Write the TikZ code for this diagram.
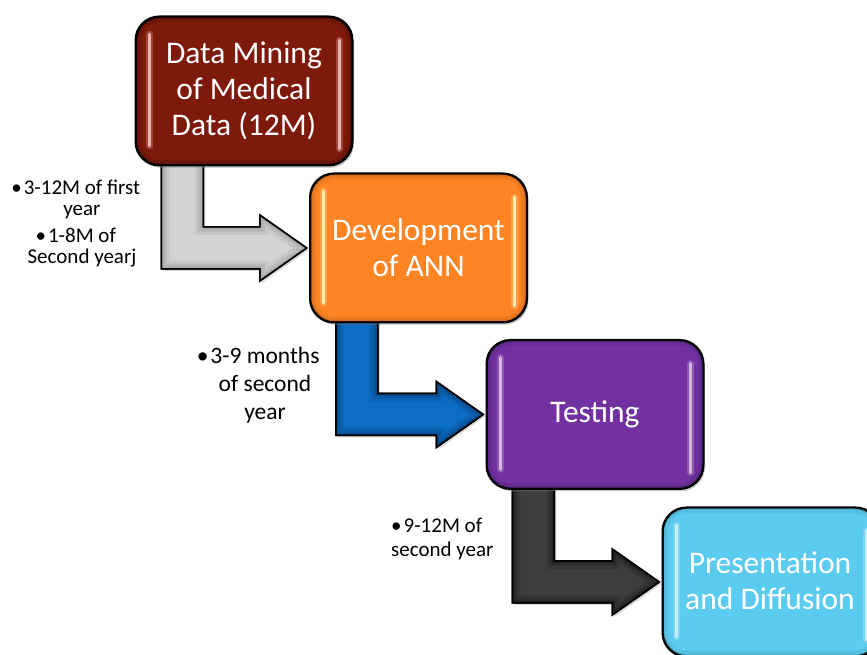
\documentclass[tikz,border=0pt]{standalone}
\usepackage{fontspec}
\setmainfont{Carlito}
\usetikzlibrary{shadows,calc}

\definecolor{minered}{HTML}{7E1A0C}
\definecolor{annorange}{HTML}{FF8424}
\definecolor{testpurple}{HTML}{7131A1}
\definecolor{presblue}{HTML}{5CCBF0}
\definecolor{arrowgray}{HTML}{D2D2D2}
\definecolor{arrowblue}{HTML}{0B6DC4}
\definecolor{arrowdark}{HTML}{3E3E3E}

\pgfdeclarelayer{back}
\pgfsetlayers{back,main}

\tikzset{
  phase/.style={draw=black, line width=1.5pt, rounded corners=24pt,
    minimum width=216pt, minimum height=148pt, inner sep=0pt,
    drop shadow={shadow xshift=2pt, shadow yshift=-3pt, opacity=0.35}},
  phasetext/.style={text=white, align=center, font=\fontsize{31.5}{36}\selectfont},
  elbow/.style={draw=black, line width=1.5pt, line join=miter,
    drop shadow={shadow xshift=2pt, shadow yshift=-2pt, opacity=0.3}},
  note/.style={align=center, text=black, inner sep=0pt},
  gloss/.style={line width=3.2pt, line cap=round, opacity=0.8},
  glow/.style={line width=7pt, line cap=round, opacity=0.25},
}

% elbow arrow #1 from the bottom of box #2 to the west side of box #3,
% filled with #4 and shaded darker (#5) towards its outline
\newcommand\elbowarrow[5]{%
  \path let \p1=(#2.south west), \p2=(#3.west) in
    coordinate (#1-1) at (\x1+26pt,\y1+12pt)
    coordinate (#1-2) at (\x1+26pt,\y2-21pt)
    coordinate (#1-3) at (\x2-50pt,\y2-21pt)
    coordinate (#1-4) at (\x2-50pt,\y2-33pt)
    coordinate (#1-5) at (\x2-3pt,\y2)
    coordinate (#1-6) at (\x2-50pt,\y2+33pt)
    coordinate (#1-7) at (\x2-50pt,\y2+21pt)
    coordinate (#1-8) at (\x1+68pt,\y2+21pt)
    coordinate (#1-9) at (\x1+68pt,\y1+12pt);
  \def\arrowoutline{(#1-1) -- (#1-2) -- (#1-3) -- (#1-4) -- (#1-5)
    -- (#1-6) -- (#1-7) -- (#1-8) -- (#1-9) -- cycle}%
  \path[elbow, fill=#4] \arrowoutline;
  \begin{scope}
    \clip \arrowoutline;
    \foreach \w/\o in {16/0.12, 10/0.15, 5/0.22}
      \draw[line width=\w pt, #5, opacity=\o, line join=miter] \arrowoutline;
  \end{scope}
  \draw[line width=1.5pt, line join=miter] \arrowoutline;}

% darker rim inside a box outline
\newcommand\boxrim[2]{%
  \begin{scope}
    \clip[rounded corners=24pt] (#1.south west) rectangle (#1.north east);
    \foreach \w/\o in {12/0.10, 6/0.15}
      \draw[line width=\w pt, #2, opacity=\o, rounded corners=24pt]
        (#1.south west) rectangle (#1.north east);
  \end{scope}
  \draw[line width=1.5pt, rounded corners=24pt] (#1.south west) rectangle (#1.north east);}

% light streaks near the left and right edges of a box
\newcommand\boxgloss[2]{%
  \foreach \sty in {glow, gloss} {
    \draw[\sty, #2] ($(#1.north west)+(14pt,-18pt)$) -- ($(#1.south west)+(14pt,20pt)$);
    \draw[\sty, #2] ($(#1.north east)+(-13pt,-24pt)$) -- ($(#1.south east)+(-13pt,17pt)$);
  }}

\begin{document}
\begin{tikzpicture}
  \useasboundingbox (0pt,0pt) rectangle (867pt,655pt);
  \clip (0pt,0pt) rectangle (867pt,655pt);

  % phase boxes
  \node[phase, fill=minered]    (mining) at (244pt,564pt)   {};
  \node[phase, fill=annorange]  (ann)    at (418.5pt,407pt) {};
  \node[phase, fill=testpurple] (test)   at (595pt,240.5pt) {};
  \node[phase, fill=presblue]   (pres)   at (771pt,73pt)    {};

  \boxrim{mining}{black}
  \boxrim{ann}{black!60!annorange}
  \boxrim{test}{black!70!testpurple}
  \boxrim{pres}{black!50!presblue}

  \boxgloss{mining}{white!80!red}
  \boxgloss{ann}{white!75!yellow}
  \boxgloss{test}{white!80!violet}
  \boxgloss{pres}{white!85!cyan}

  % box titles
  \node[phasetext] (miningtext) at (mining) {Data Mining\\of Medical\\Data (12M)};
  \node[phasetext] (anntext) at (ann) {Development\\of ANN};
  \node[phasetext] (testtext) at (test) {Testing};
  \node[phasetext] (prestext) at ($(pres)+(-1pt,1pt)$) {Presentation\\and Diffusion};

  % connecting elbow arrows, behind the boxes
  \begin{pgfonlayer}{back}
    \elbowarrow{a1}{mining}{ann}{arrowgray}{black!55}
    \elbowarrow{a2}{ann}{test}{arrowblue}{black!70!arrowblue}
    \elbowarrow{a3}{test}{pres}{arrowdark}{black}
  \end{pgfonlayer}

  % time span notes
  \node[note, font=\fontsize{21}{21}\selectfont] (span1a) at (82pt,456pt)
    {\llap{•\hspace{2pt}}3-12M of first\\year};
  \node[note, font=\fontsize{21}{21}\selectfont] (span1b) at (82pt,407pt)
    {\llap{•\hspace{2pt}}1-8M of\\Second yearj};
  \node[note, font=\fontsize{23.5}{28}\selectfont] (span2) at (265pt,270pt)
    {\llap{•\hspace{2pt}}3-9 months\\of second\\year};
  \node[note, align=left, anchor=west, font=\fontsize{21}{24}\selectfont] (span3) at (391pt,116.5pt)
    {•\hspace{2pt}9-12M of\\second year};
\end{tikzpicture}
\end{document}
